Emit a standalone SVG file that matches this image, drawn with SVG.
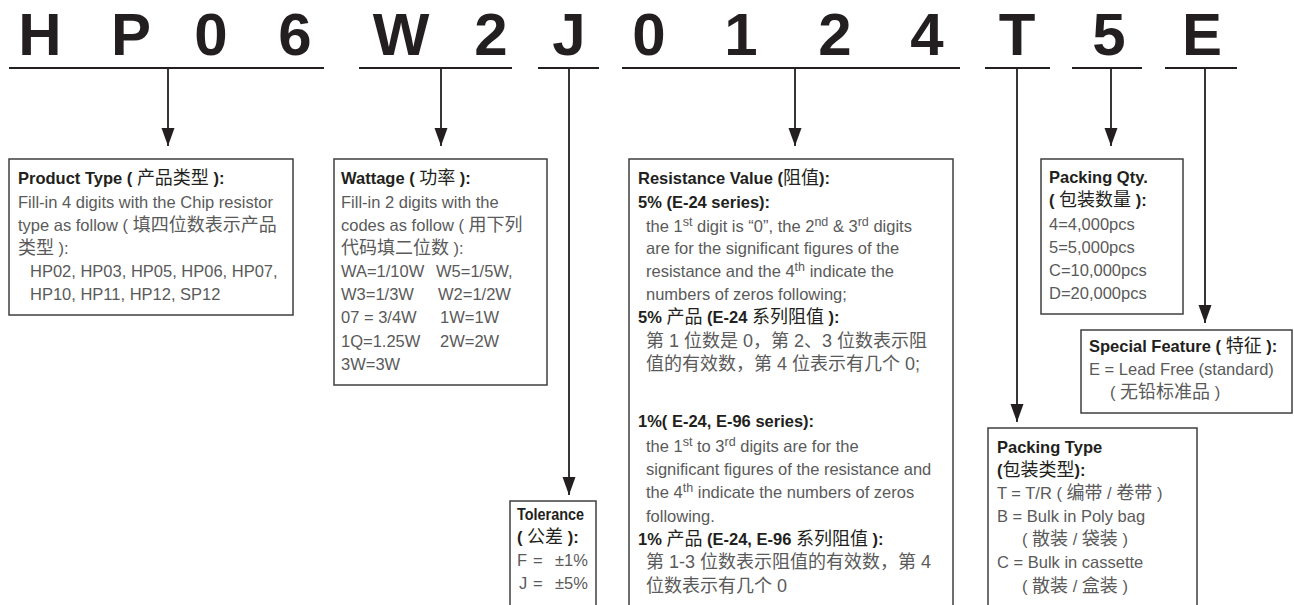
<svg xmlns="http://www.w3.org/2000/svg" width="1294" height="605" viewBox="0 0 1294 605">
<style>
.hd{font-family:"Liberation Sans","DejaVu Sans",sans-serif;font-weight:bold;font-size:60px;fill:#231f20;text-anchor:middle}
.ul{stroke:#231f20;stroke-width:2;fill:none}
.cn{stroke:#231f20;stroke-width:1.8;fill:none}
.box{fill:#fff;stroke:#3f3f3f;stroke-width:1.5}
.t{font-family:"Liberation Sans","Noto Sans CJK SC",sans-serif;font-size:16.5px;fill:#5a5a5a}
.b{font-family:"Liberation Sans","Noto Sans CJK SC",sans-serif;font-size:16.5px;font-weight:bold;fill:#231f20}
.sup{font-size:12.5px}
.c{font-size:18px}
.cb{font-size:18px;font-weight:normal}
</style>
<defs>
<marker id="ah" markerUnits="userSpaceOnUse" markerWidth="18" markerHeight="14" refX="18" refY="7" orient="auto">
<path d="M0,0.5 L18,7 L0,13.5 z" fill="#231f20"/>
</marker>
</defs>

<g id="header">
<text class="hd" x="40" y="55">H</text>
<text class="hd" x="131" y="55">P</text>
<text class="hd" x="211" y="55">0</text>
<text class="hd" x="295" y="55">6</text>
<text class="hd" x="401" y="55">W</text>
<text class="hd" x="491" y="55">2</text>
<text class="hd" x="569" y="55">J</text>
<text class="hd" x="649" y="55">0</text>
<text class="hd" x="741" y="55">1</text>
<text class="hd" x="835" y="55">2</text>
<text class="hd" x="927" y="55">4</text>
<text class="hd" x="1017" y="55">T</text>
<text class="hd" x="1109" y="55">5</text>
<text class="hd" x="1202" y="55">E</text>
<path class="ul" d="M9,68H324M359,68H512M538,68H599M622,68H960M985,68H1050M1072,68H1142M1165,68H1237"/>
</g>

<g id="connectors">
<line class="cn" x1="168" y1="68" x2="168" y2="146" marker-end="url(#ah)"/>
<line class="cn" x1="441" y1="68" x2="441" y2="146" marker-end="url(#ah)"/>
<line class="cn" x1="569" y1="68" x2="569" y2="495" marker-end="url(#ah)"/>
<line class="cn" x1="795" y1="68" x2="795" y2="146" marker-end="url(#ah)"/>
<line class="cn" x1="1017" y1="68" x2="1017" y2="422" marker-end="url(#ah)"/>
<line class="cn" x1="1111" y1="68" x2="1111" y2="146" marker-end="url(#ah)"/>
<line class="cn" x1="1205" y1="68" x2="1205" y2="323" marker-end="url(#ah)"/>
</g>

<g id="product-type">
<rect class="box" x="9" y="159" width="284" height="156"/>
<text class="b" x="18" y="184">Product Type ( <tspan class="cb">产品类型</tspan> ):</text>
<text class="t" x="18" y="208">Fill-in 4 digits with the Chip resistor</text>
<text class="t" x="18" y="231">type as follow ( <tspan class="c">填四位数表示产品</tspan></text>
<text class="t" x="18" y="254"><tspan class="c">类型</tspan> ):</text>
<text class="t" x="30" y="277">HP02, HP03, HP05, HP06, HP07,</text>
<text class="t" x="30" y="300">HP10, HP11, HP12, SP12</text>
</g>

<g id="wattage">
<rect class="box" x="334" y="159" width="213" height="226"/>
<text class="b" x="341" y="184">Wattage ( <tspan class="cb">功率</tspan> ):</text>
<text class="t" x="341" y="208">Fill-in 2 digits with the</text>
<text class="t" x="341" y="231">codes as follow ( <tspan class="c">用下列</tspan></text>
<text class="t" x="341" y="254"><tspan class="c">代码填二位数</tspan> ):</text>
<text class="t" x="341" y="277">WA=1/10W</text><text class="t" x="436" y="277">W5=1/5W,</text>
<text class="t" x="341" y="300">W3=1/3W</text><text class="t" x="438" y="300">W2=1/2W</text>
<text class="t" x="341" y="323">07 = 3/4W</text><text class="t" x="440" y="323">1W=1W</text>
<text class="t" x="341" y="347">1Q=1.25W</text><text class="t" x="440" y="347">2W=2W</text>
<text class="t" x="341" y="370">3W=3W</text>
</g>

<g id="tolerance">
<rect class="box" x="510" y="501" width="86" height="120"/>
<text class="b" x="517" y="520" textLength="67" lengthAdjust="spacingAndGlyphs">Tolerance</text>
<text class="b" x="517" y="543">( <tspan class="cb">公差</tspan> ):</text>
<text class="t" x="517" y="566">F</text><text class="t" x="533" y="566">=</text><text class="t" x="555" y="566">±1%</text>
<text class="t" x="519" y="589">J</text><text class="t" x="533" y="589">=</text><text class="t" x="555" y="589">±5%</text>
</g>

<g id="resistance">
<rect class="box" x="629" y="159" width="324" height="462"/>
<text class="b" x="638" y="184">Resistance Value (<tspan class="cb">阻值</tspan>):</text>
<text class="b" x="638" y="208">5% (E-24 series):</text>
<text class="t" x="646" y="232">the 1<tspan class="sup" dy="-6">st</tspan><tspan dy="6"> digit is “0”, the 2</tspan><tspan class="sup" dy="-6">nd</tspan><tspan dy="6"> &amp; 3</tspan><tspan class="sup" dy="-6">rd</tspan><tspan dy="6"> digits</tspan></text>
<text class="t" x="646" y="254">are for the significant figures of the</text>
<text class="t" x="646" y="277">resistance and the 4<tspan class="sup" dy="-6">th</tspan><tspan dy="6"> indicate the</tspan></text>
<text class="t" x="646" y="300">numbers of zeros following;</text>
<text class="b" x="638" y="323">5% <tspan class="cb">产品</tspan> (E-24 <tspan class="cb">系列阻值</tspan> ):</text>
<text class="t c" x="646" y="347">第 1 位数是 0，第 2、3 位数表示阻</text>
<text class="t c" x="646" y="370">值的有效数，第 4 位表示有几个 0;</text>
<text class="b" x="638" y="427">1%( E-24, E-96 series):</text>
<text class="t" x="646" y="452">the 1<tspan class="sup" dy="-6">st</tspan><tspan dy="6"> to 3</tspan><tspan class="sup" dy="-6">rd</tspan><tspan dy="6"> digits are for the</tspan></text>
<text class="t" x="646" y="475">significant figures of the resistance and</text>
<text class="t" x="646" y="498">the 4<tspan class="sup" dy="-6">th</tspan><tspan dy="6"> indicate the numbers of zeros</tspan></text>
<text class="t" x="646" y="522">following.</text>
<text class="b" x="638" y="545">1% <tspan class="cb">产品</tspan> (E-24, E-96 <tspan class="cb">系列阻值</tspan> ):</text>
<text class="t c" x="646" y="568">第 1-3 位数表示阻值的有效数，第 4</text>
<text class="t c" x="646" y="592">位数表示有几个 0</text>
</g>

<g id="packing-qty">
<rect class="box" x="1041" y="159" width="142" height="155"/>
<text class="b" x="1049" y="183">Packing Qty.</text>
<text class="b" x="1049" y="206">( <tspan class="cb">包装数量</tspan> ):</text>
<text class="t" x="1049" y="230">4=4,000pcs</text>
<text class="t" x="1049" y="253">5=5,000pcs</text>
<text class="t" x="1049" y="276">C=10,000pcs</text>
<text class="t" x="1049" y="299">D=20,000pcs</text>
</g>

<g id="special-feature">
<rect class="box" x="1081" y="330" width="211" height="83"/>
<text class="b" x="1089" y="352">Special Feature ( <tspan class="cb">特征</tspan> ):</text>
<text class="t" x="1089" y="375">E = Lead Free (standard)</text>
<text class="t" x="1110" y="398">( <tspan class="c">无铅标准品</tspan> )</text>
</g>

<g id="packing-type">
<rect class="box" x="988" y="428" width="209" height="193"/>
<text class="b" x="997" y="453">Packing Type</text>
<text class="b" x="997" y="476">(<tspan class="cb">包装类型</tspan>):</text>
<text class="t" x="997" y="499">T = T/R ( <tspan class="c">编带</tspan> / <tspan class="c">卷带</tspan> )</text>
<text class="t" x="997" y="522">B = Bulk in Poly bag</text>
<text class="t" x="1022" y="545">( <tspan class="c">散装</tspan> / <tspan class="c">袋装</tspan> )</text>
<text class="t" x="997" y="568">C = Bulk in cassette</text>
<text class="t" x="1022" y="592">( <tspan class="c">散装</tspan> / <tspan class="c">盒装</tspan> )</text>
</g>
</svg>
